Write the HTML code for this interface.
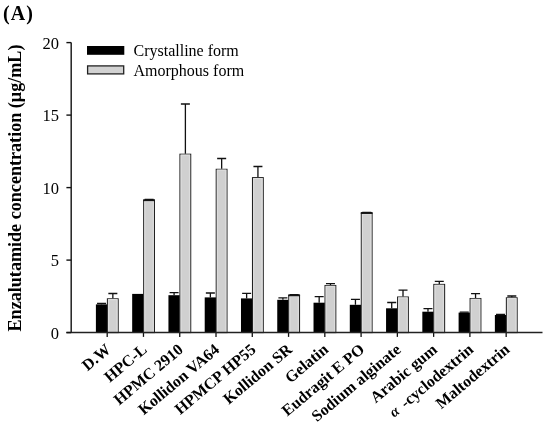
<!DOCTYPE html>
<html><head><meta charset="utf-8"><style>
html,body{margin:0;padding:0;background:#fff;}
body{width:550px;height:426px;overflow:hidden;}
svg{display:block;will-change:transform;}
text{font-family:"Liberation Serif",serif;fill:#000;}
.xl{font-size:16px;font-weight:bold;}
.yl{font-size:16.5px;}
.lg{font-size:16px;}
</style></head><body>
<svg width="550" height="426" viewBox="0 0 550 426">
<rect width="550" height="426" fill="#fff"/>
<text x="3" y="19.6" style="font-size:20px;font-weight:bold;letter-spacing:1.1px">(A)</text>
<text transform="translate(21,331.5) rotate(-90)" x="0" y="0" style="font-size:18.13px;font-weight:bold">Enzalutamide concentration (μg/mL)</text>
<rect x="95.90" y="304.40" width="11.30" height="28.20" fill="#000"/>
<rect x="107.40" y="298.80" width="10.80" height="33.80" fill="#d0d0d0" stroke="#222" stroke-width="1.05"/>
<path d="M108.60 332.10V299.70H117.00V332.10" fill="none" stroke="#dcdcdc" stroke-width="1.2"/>
<path d="M101.55 304.40V303.50M97.05 303.50H106.05" stroke="#111" stroke-width="1.3" fill="none"/>
<path d="M112.85 298.30V293.50M108.35 293.50H117.35" stroke="#111" stroke-width="1.3" fill="none"/>
<path d="M107.20 332.60V336.90" stroke="#111" stroke-width="1.3"/>
<text x="111.70" y="351.10" transform="rotate(-40 111.70 351.10)" text-anchor="end" class="xl">D.W</text>
<rect x="132.17" y="293.90" width="11.30" height="38.70" fill="#000"/>
<rect x="143.67" y="200.50" width="10.80" height="132.10" fill="#d0d0d0" stroke="#222" stroke-width="1.05"/>
<path d="M144.87 332.10V201.40H153.27V332.10" fill="none" stroke="#dcdcdc" stroke-width="1.2"/>
<path d="M143.17 200.20H154.97" stroke="#151515" stroke-width="1.9"/>
<path d="M149.12 200.00V199.40M144.62 199.40H153.62" stroke="#111" stroke-width="1.3" fill="none"/>
<path d="M143.47 332.60V336.90" stroke="#111" stroke-width="1.3"/>
<text x="147.97" y="351.10" transform="rotate(-40 147.97 351.10)" text-anchor="end" class="xl">HPC-L</text>
<rect x="168.44" y="295.20" width="11.30" height="37.40" fill="#000"/>
<rect x="179.94" y="154.20" width="10.80" height="178.40" fill="#d0d0d0" stroke="#222" stroke-width="1.05"/>
<path d="M181.14 332.10V155.10H189.54V332.10" fill="none" stroke="#dcdcdc" stroke-width="1.2"/>
<path d="M174.09 295.20V292.60M169.59 292.60H178.59" stroke="#111" stroke-width="1.3" fill="none"/>
<path d="M185.39 153.70V104.00M180.89 104.00H189.89" stroke="#111" stroke-width="1.3" fill="none"/>
<path d="M179.74 332.60V336.90" stroke="#111" stroke-width="1.3"/>
<text x="184.24" y="351.10" transform="rotate(-40 184.24 351.10)" text-anchor="end" class="xl">HPMC 2910</text>
<rect x="204.71" y="297.40" width="11.30" height="35.20" fill="#000"/>
<rect x="216.21" y="169.30" width="10.80" height="163.30" fill="#d0d0d0" stroke="#222" stroke-width="1.05"/>
<path d="M217.41 332.10V170.20H225.81V332.10" fill="none" stroke="#dcdcdc" stroke-width="1.2"/>
<path d="M210.36 297.40V293.00M205.86 293.00H214.86" stroke="#111" stroke-width="1.3" fill="none"/>
<path d="M221.66 168.80V158.50M217.16 158.50H226.16" stroke="#111" stroke-width="1.3" fill="none"/>
<path d="M216.01 332.60V336.90" stroke="#111" stroke-width="1.3"/>
<text x="220.51" y="351.10" transform="rotate(-40 220.51 351.10)" text-anchor="end" class="xl">Kollidon VA64</text>
<rect x="240.98" y="298.40" width="11.30" height="34.20" fill="#000"/>
<rect x="252.48" y="177.60" width="10.80" height="155.00" fill="#d0d0d0" stroke="#222" stroke-width="1.05"/>
<path d="M253.68 332.10V178.50H262.08V332.10" fill="none" stroke="#dcdcdc" stroke-width="1.2"/>
<path d="M246.63 298.40V293.40M242.13 293.40H251.13" stroke="#111" stroke-width="1.3" fill="none"/>
<path d="M257.93 177.10V166.50M253.43 166.50H262.43" stroke="#111" stroke-width="1.3" fill="none"/>
<path d="M252.28 332.60V336.90" stroke="#111" stroke-width="1.3"/>
<text x="256.78" y="351.10" transform="rotate(-40 256.78 351.10)" text-anchor="end" class="xl">HPMCP HP55</text>
<rect x="277.25" y="299.80" width="11.30" height="32.80" fill="#000"/>
<rect x="288.75" y="295.60" width="10.80" height="37.00" fill="#d0d0d0" stroke="#222" stroke-width="1.05"/>
<path d="M289.95 332.10V296.50H298.35V332.10" fill="none" stroke="#dcdcdc" stroke-width="1.2"/>
<path d="M288.25 295.30H300.05" stroke="#151515" stroke-width="1.9"/>
<path d="M282.90 299.80V297.90M278.40 297.90H287.40" stroke="#111" stroke-width="1.3" fill="none"/>
<path d="M294.20 295.10V294.60M289.70 294.60H298.70" stroke="#111" stroke-width="1.3" fill="none"/>
<path d="M288.55 332.60V336.90" stroke="#111" stroke-width="1.3"/>
<text x="293.05" y="351.10" transform="rotate(-40 293.05 351.10)" text-anchor="end" class="xl">Kollidon SR</text>
<rect x="313.52" y="302.70" width="11.30" height="29.90" fill="#000"/>
<rect x="325.02" y="285.50" width="10.80" height="47.10" fill="#d0d0d0" stroke="#222" stroke-width="1.05"/>
<path d="M326.22 332.10V286.40H334.62V332.10" fill="none" stroke="#dcdcdc" stroke-width="1.2"/>
<path d="M319.17 302.70V296.60M314.67 296.60H323.67" stroke="#111" stroke-width="1.3" fill="none"/>
<path d="M330.47 285.00V283.60M325.97 283.60H334.97" stroke="#111" stroke-width="1.3" fill="none"/>
<path d="M324.82 332.60V336.90" stroke="#111" stroke-width="1.3"/>
<text x="329.32" y="351.10" transform="rotate(-40 329.32 351.10)" text-anchor="end" class="xl">Gelatin</text>
<rect x="349.79" y="304.80" width="11.30" height="27.80" fill="#000"/>
<rect x="361.29" y="213.30" width="10.80" height="119.30" fill="#d0d0d0" stroke="#222" stroke-width="1.05"/>
<path d="M362.49 332.10V214.20H370.89V332.10" fill="none" stroke="#dcdcdc" stroke-width="1.2"/>
<path d="M360.79 213.00H372.59" stroke="#151515" stroke-width="1.9"/>
<path d="M355.44 304.80V299.30M350.94 299.30H359.94" stroke="#111" stroke-width="1.3" fill="none"/>
<path d="M366.74 212.80V212.30M362.24 212.30H371.24" stroke="#111" stroke-width="1.3" fill="none"/>
<path d="M361.09 332.60V336.90" stroke="#111" stroke-width="1.3"/>
<text x="365.59" y="351.10" transform="rotate(-40 365.59 351.10)" text-anchor="end" class="xl">Eudragit E PO</text>
<rect x="386.06" y="308.30" width="11.30" height="24.30" fill="#000"/>
<rect x="397.56" y="297.00" width="10.80" height="35.60" fill="#d0d0d0" stroke="#222" stroke-width="1.05"/>
<path d="M398.76 332.10V297.90H407.16V332.10" fill="none" stroke="#dcdcdc" stroke-width="1.2"/>
<path d="M391.71 308.30V302.50M387.21 302.50H396.21" stroke="#111" stroke-width="1.3" fill="none"/>
<path d="M403.01 296.50V290.20M398.51 290.20H407.51" stroke="#111" stroke-width="1.3" fill="none"/>
<path d="M397.36 332.60V336.90" stroke="#111" stroke-width="1.3"/>
<text x="401.86" y="351.10" transform="rotate(-40 401.86 351.10)" text-anchor="end" class="xl">Sodium alginate</text>
<rect x="422.33" y="311.70" width="11.30" height="20.90" fill="#000"/>
<rect x="433.83" y="284.40" width="10.80" height="48.20" fill="#d0d0d0" stroke="#222" stroke-width="1.05"/>
<path d="M435.03 332.10V285.30H443.43V332.10" fill="none" stroke="#dcdcdc" stroke-width="1.2"/>
<path d="M427.98 311.70V308.70M423.48 308.70H432.48" stroke="#111" stroke-width="1.3" fill="none"/>
<path d="M439.28 283.90V281.40M434.78 281.40H443.78" stroke="#111" stroke-width="1.3" fill="none"/>
<path d="M433.63 332.60V336.90" stroke="#111" stroke-width="1.3"/>
<text x="438.13" y="351.10" transform="rotate(-40 438.13 351.10)" text-anchor="end" class="xl">Arabic gum</text>
<rect x="458.60" y="312.60" width="11.30" height="20.00" fill="#000"/>
<rect x="470.10" y="298.50" width="10.80" height="34.10" fill="#d0d0d0" stroke="#222" stroke-width="1.05"/>
<path d="M471.30 332.10V299.40H479.70V332.10" fill="none" stroke="#dcdcdc" stroke-width="1.2"/>
<path d="M464.25 312.60V312.10M459.75 312.10H468.75" stroke="#111" stroke-width="1.3" fill="none"/>
<path d="M475.55 298.00V293.60M471.05 293.60H480.05" stroke="#111" stroke-width="1.3" fill="none"/>
<path d="M469.90 332.60V336.90" stroke="#111" stroke-width="1.3"/>
<text x="474.40" y="351.10" transform="rotate(-40 474.40 351.10)" text-anchor="end" class="xl"><tspan font-style="italic" font-size="14.5" dy="-0.4">α</tspan><tspan dy="0.4" dx="2.5"> -cyclodextrin</tspan></text>
<rect x="494.87" y="315.00" width="11.30" height="17.60" fill="#000"/>
<rect x="506.37" y="297.80" width="10.80" height="34.80" fill="#d0d0d0" stroke="#222" stroke-width="1.05"/>
<path d="M507.57 332.10V298.70H515.97V332.10" fill="none" stroke="#dcdcdc" stroke-width="1.2"/>
<path d="M500.52 315.00V314.50M496.02 314.50H505.02" stroke="#111" stroke-width="1.3" fill="none"/>
<path d="M511.82 297.30V296.00M507.32 296.00H516.32" stroke="#111" stroke-width="1.3" fill="none"/>
<path d="M506.17 332.60V336.90" stroke="#111" stroke-width="1.3"/>
<text x="510.67" y="351.10" transform="rotate(-40 510.67 351.10)" text-anchor="end" class="xl">Maltodextrin</text>
<path d="M71.2 42.6V332.6M66.4 332.6H542.5" stroke="#222" stroke-width="1.5" fill="none"/>
<path d="M66.4 332.60H71.2" stroke="#111" stroke-width="1.4"/>
<text x="59" y="338.80" text-anchor="end" class="yl">0</text>
<path d="M66.4 260.10H71.2" stroke="#111" stroke-width="1.4"/>
<text x="59" y="266.30" text-anchor="end" class="yl">5</text>
<path d="M66.4 187.60H71.2" stroke="#111" stroke-width="1.4"/>
<text x="59" y="193.80" text-anchor="end" class="yl">10</text>
<path d="M66.4 115.10H71.2" stroke="#111" stroke-width="1.4"/>
<text x="59" y="121.30" text-anchor="end" class="yl">15</text>
<path d="M66.4 42.60H71.2" stroke="#111" stroke-width="1.4"/>
<text x="59" y="48.80" text-anchor="end" class="yl">20</text>
<rect x="87" y="46" width="37.3" height="8.8" fill="#000"/>
<rect x="87.6" y="65.9" width="36.1" height="8" fill="#d2d2d2" stroke="#222" stroke-width="1.3"/>
<text x="133.5" y="56" class="lg">Crystalline form</text>
<text x="133.5" y="75.5" class="lg">Amorphous form</text>
</svg>
</body></html>
